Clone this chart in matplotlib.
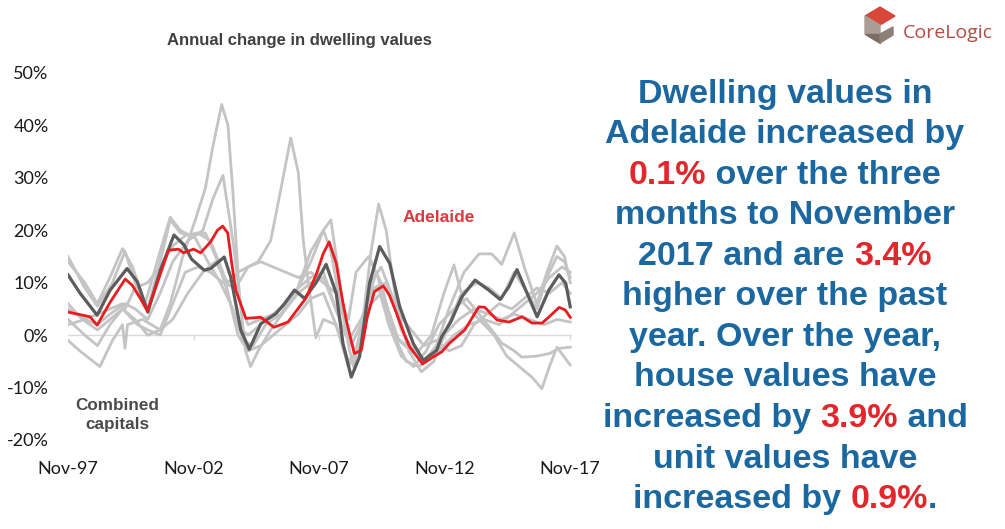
import matplotlib
matplotlib.use("Agg")
import matplotlib.pyplot as plt
from matplotlib.patches import Polygon

# ---- data: annual change in dwelling values (%), dates as decimal years ----
ADL_YEARS = [1997.83, 1998.71, 1998.99, 1999.51, 2000.11, 2000.39, 2000.71, 2000.99,
             2001.39, 2001.83, 2002.23, 2002.43, 2002.83, 2003.11, 2003.51, 2003.78,
             2003.99, 2004.19, 2004.35, 2004.51, 2004.91, 2005.51, 2006.03, 2006.59,
             2007.31, 2007.71, 2007.99, 2008.23, 2008.51, 2008.71, 2008.91, 2009.23,
             2009.51, 2009.75, 2010.03, 2010.39, 2010.63, 2010.91, 2011.2, 2011.43,
             2011.95, 2012.39, 2012.71, 2013.03, 2013.63, 2014.19, 2014.43, 2014.91,
             2015.39, 2015.91, 2016.31, 2016.71, 2016.99, 2017.39, 2017.63, 2017.83]
ADL_VALUES = [4.4, 3.5, 1.9, 6.3, 10.7, 9.5, 7.0, 4.6,
              10.0, 16.2, 16.4, 15.7, 16.4, 15.7, 17.8, 20.0,
              20.8, 19.5, 13.7, 8.6, 3.2, 3.4, 1.5, 2.5,
              7.1, 11.5, 15.5, 17.8, 13.7, 8.0, 2.9, -3.5,
              -2.9, 3.5, 8.3, 9.4, 7.6, 4.2, 0.4, -2.2,
              -5.5, -4.1, -3.2, -1.5, 1.0, 5.4, 5.3, 2.9,
              2.5, 3.5, 2.3, 2.3, 3.5, 5.3, 4.8, 3.4]

CAP_YEARS = [1997.83, 1998.31, 1998.99, 1999.51, 2000.18, 2000.59, 2001.01, 2001.51,
             2002.05, 2002.45, 2002.75, 2003.25, 2003.51, 2004.05, 2004.31, 2004.71,
             2005.05, 2005.51, 2006.11, 2006.45, 2006.85, 2007.25, 2007.71, 2008.11,
             2008.51, 2008.78, 2009.11, 2009.44, 2009.84, 2010.24, 2010.64, 2011.04,
             2011.58, 2011.98, 2012.51, 2012.71, 2013.07, 2013.51, 2014.04, 2014.58,
             2015.04, 2015.38, 2015.71, 2016.11, 2016.51, 2016.98, 2017.38, 2017.65,
             2017.83]
CAP_VALUES = [11.5, 8.0, 3.8, 8.6, 12.7, 10.2, 4.4, 12.4,
              19.1, 17.2, 14.5, 12.4, 12.7, 14.9, 11.1, 1.0,
              -2.7, 2.2, 4.1, 6.0, 8.6, 7.0, 10.0, 13.5,
              8.0, -1.6, -8.0, -4.1, 9.9, 16.9, 13.7, 5.4,
              -1.6, -4.8, -2.9, -0.3, 2.5, 7.3, 10.5, 8.6,
              6.8, 9.2, 12.5, 8.0, 3.5, 8.6, 11.5, 9.9,
              5.4]

SYD_YEARS = [1997.83, 1998.5, 1999.0, 1999.6, 2000.1, 2000.5, 2001.0, 2001.5, 2001.9,
             2002.3, 2002.8, 2003.3, 2003.8, 2004.2, 2004.6, 2005.0, 2005.5, 2006.0,
             2006.5, 2007.0, 2007.5, 2008.0, 2008.5, 2009.0, 2009.4, 2009.9, 2010.3,
             2010.7, 2011.1, 2011.6, 2012.0, 2012.5, 2013.0, 2013.6, 2014.2, 2014.7,
             2015.1, 2015.6, 2016.0, 2016.5, 2016.9, 2017.3, 2017.6, 2017.83]
SYD_VALUES = [15, 9, 5.5, 10, 16, 10, 5, 14, 22,
              19.5, 19, 19.5, 14, 8, 0, -3, -2, 0,
              2, 4, 7, 8, 2, -5, -3, 10, 13,
              8, 1, -3, -5, -2, 5, 12, 15.5, 15.5,
              13.5, 19.5, 13, 6, 12, 17, 15, 10]

MEL_YEARS = [1997.83, 1998.5, 1999.0, 1999.5, 2000.0, 2000.4, 2000.9, 2001.5, 2001.9,
             2002.3, 2002.9, 2003.4, 2003.9, 2004.4, 2004.8, 2005.2, 2005.7, 2006.3,
             2006.9, 2007.5, 2008.0, 2008.3, 2008.6, 2009.0, 2009.2, 2009.5, 2009.9,
             2010.2, 2010.5, 2010.9, 2011.4, 2011.9, 2012.4, 2012.9, 2013.5, 2014.1,
             2014.6, 2015.1, 2015.6, 2016.0, 2016.5, 2016.9, 2017.3, 2017.6, 2017.83]
MEL_VALUES = [14, 10, 6, 11, 16.5, 13, 6, 16, 22.5,
              20, 18.5, 14, 10, 5, -1, -2, 2, 4,
              8, 16, 20, 22, 12, -2, -6, 0, 16,
              25, 20, 6, -3, -7, -5, 1, 8, 10,
              9, 7, 12, 9, 5, 11, 15, 14, 11]

BRI_YEARS = [1997.83, 1998.5, 1999.0, 1999.5, 2000.1, 2000.5, 2001.0, 2001.5, 2002.0,
             2002.6, 2003.2, 2003.6, 2004.0, 2004.4, 2004.7, 2005.0, 2005.5, 2006.0,
             2006.5, 2007.0, 2007.5, 2008.0, 2008.3, 2008.7, 2009.1, 2009.5, 2009.9,
             2010.3, 2010.8, 2011.3, 2011.8, 2012.3, 2012.8, 2013.4, 2014.0, 2014.6,
             2015.1, 2015.6, 2016.2, 2016.8, 2017.3, 2017.83]
BRI_VALUES = [5, 3, 2, 4, 6, 5, 3, 8, 14,
              18, 20, 26, 30.5, 18, 6, 2, 3, 4,
              6, 9, 14, 20, 16, 5, -2, 2, 6,
              8, 0, -5, -6, -4, 0, 3, 5, 4,
              3, 4, 3, 2, 3, 2.5]

HOB_YEARS = [1997.83, 1998.3, 1999.1, 1999.6, 2000.0, 2000.1, 2000.2, 2000.8, 2001.5,
             2001.9, 2002.4, 2002.9, 2003.3, 2003.6, 2003.95, 2004.2, 2004.4, 2004.65,
             2004.9, 2005.1, 2005.4, 2005.9, 2006.5, 2007.0, 2007.5, 2008.0, 2008.4,
             2008.9, 2009.3, 2009.7, 2010.1, 2010.5, 2011.0, 2011.5, 2012.0, 2012.6,
             2013.2, 2013.8, 2014.4, 2015.0, 2015.5, 2016.0, 2016.5, 2017.0, 2017.5,
             2017.83]
HOB_VALUES = [-1, -3, -6, -1, 2, -2.5, 2, 3, 1,
              6, 15, 22, 28, 36, 44, 40, 27, 8,
              -3, -6, -3, 1, 5, 8, 10, 11, 6,
              0, -3, 5, 12, 6, -1, -3, -5, -3,
              0, 2, 3, 2, 4, 6, 8, 11, 13,
              12]

PER_YEARS = [1997.83, 1998.4, 1999.0, 1999.5, 2000.0, 2000.6, 2001.0, 2001.5, 2002.0,
             2002.5, 2003.0, 2003.5, 2004.0, 2004.5, 2005.0, 2005.4, 2005.9, 2006.3,
             2006.7, 2007.0, 2007.2, 2007.4, 2007.7, 2008.0, 2008.5, 2009.0, 2009.3,
             2009.8, 2010.2, 2010.6, 2011.1, 2011.6, 2012.1, 2012.6, 2013.2, 2013.7,
             2014.2, 2014.7, 2015.1, 2015.6, 2015.9, 2016.5, 2017.0, 2017.4, 2017.83]
PER_VALUES = [6, 3, 1, 3, 5, 2, 1, 0, 6,
              12, 13, 12, 10, 9, 13, 14, 18, 27.7,
              37.6, 31, 18, 10, -0.5, 3, 2, -6, -3,
              8, 9, 2, -4, -6, -3, 2, 5, 7,
              4, 1, -1.5, -3, -4.2, -4, -3.5, -2.5, -2.3]

DAR_YEARS = [1997.83, 1998.5, 1999.0, 1999.5, 2000.0, 2000.5, 2001.0, 2001.5, 2002.0,
             2002.6, 2003.2, 2003.7, 2004.2, 2004.6, 2005.0, 2005.5, 2006.0, 2006.5,
             2007.0, 2007.5, 2008.0, 2008.5, 2009.0, 2009.3, 2009.8, 2010.3, 2010.8,
             2011.3, 2011.8, 2012.3, 2012.8, 2013.2, 2013.6, 2014.2, 2014.8, 2015.3,
             2015.8, 2016.3, 2016.7, 2017.0, 2017.3, 2017.83]
DAR_VALUES = [3, 0, -2, 2, 5, 3, 0, 1, 3,
              8, 12, 14, 10, 12, 13, 14, 13, 12,
              11, 12, 10, 8, 3, 12, 15, 10, 0,
              -2, -3, 0, 8, 13.4, 6, 3, 0, -4,
              -6, -8, -10.2, -6, -2.3, -5.7]

CAN_YEARS = [1997.83, 1998.5, 1999.0, 1999.5, 2000.0, 2000.1, 2000.5, 2001.0, 2001.5,
             2002.0, 2002.5, 2003.0, 2003.5, 2004.0, 2004.5, 2005.0, 2005.5, 2006.0,
             2006.5, 2007.0, 2007.5, 2008.0, 2008.5, 2009.0, 2009.5, 2010.0, 2010.5,
             2011.0, 2011.5, 2012.0, 2012.5, 2013.0, 2013.5, 2014.0, 2014.5, 2015.0,
             2015.5, 2016.0, 2016.5, 2017.0, 2017.5, 2017.83]
CAN_VALUES = [2, 3, 4, 5, 6, 5, 9, 10, 13,
              17, 19, 19.5, 18, 12, 2, 0, 2, 4,
              6, 9, 11, 12, 5, -1, 3, 9, 10,
              4, 1, -2, -1, -3, -2, 2, 4, 6,
              5, 7, 9, 8, 10, 8]

OTHER_CAPITALS = [
    (SYD_YEARS, SYD_VALUES), (MEL_YEARS, MEL_VALUES), (BRI_YEARS, BRI_VALUES),
    (HOB_YEARS, HOB_VALUES), (PER_YEARS, PER_VALUES), (DAR_YEARS, DAR_VALUES),
    (CAN_YEARS, CAN_VALUES),
]

TICK_YEARS = [1997.83, 2002.83, 2007.83, 2012.83, 2017.83]
TICK_LABELS = ["Nov-97", "Nov-02", "Nov-07", "Nov-12", "Nov-17"]
Y_TICKS = [-20, -10, 0, 10, 20, 30, 40, 50]

BLUE = "#1b68a0"
RED = "#e3262b"
BLURB = [
    [("Dwelling values in", BLUE)],
    [("Adelaide increased by", BLUE)],
    [("0.1%", RED), (" over the three", BLUE)],
    [("months to November", BLUE)],
    [("2017 and are ", BLUE), ("3.4%", RED)],
    [("higher over the past", BLUE)],
    [("year. Over the year,", BLUE)],
    [("house values have", BLUE)],
    [("increased by ", BLUE), ("3.9%", RED), (" and", BLUE)],
    [("unit values have", BLUE)],
    [("increased by ", BLUE), ("0.9%", RED), (".", BLUE)],
]

W, H = 1005, 529


def main() -> None:
    fig = plt.figure(figsize=(W / 100, H / 100), dpi=100)
    ax = fig.add_axes([68 / W, 1 - 440 / H, (572 - 68) / W, (440 - 73) / H])

    for years, values in OTHER_CAPITALS:
        ax.plot(years, values, color="#c4c4c4", lw=2.0, solid_joinstyle="round", zorder=2)
    ax.plot(CAP_YEARS, CAP_VALUES, color="#5c5c5c", lw=2.3, solid_joinstyle="round", zorder=3)
    ax.plot(ADL_YEARS, ADL_VALUES, color="#ea1c20", lw=2.0, solid_joinstyle="round", zorder=4)

    ax.axhline(0, color="#d9d9d9", lw=1, zorder=1)
    ax.vlines(TICK_YEARS[1:], -0.9, 0, color="#d9d9d9", lw=1, zorder=1)

    ax.set_xlim(1997.83, 2017.9)
    ax.set_ylim(-20, 50)
    for spine in ax.spines.values():
        spine.set_visible(False)
    ax.set_xticks(TICK_YEARS, TICK_LABELS)
    ax.set_yticks(Y_TICKS, [f"{v}%" for v in Y_TICKS])
    ax.tick_params(axis="both", length=0, labelsize=13, labelcolor="#1a1a1a")
    ax.tick_params(axis="y", pad=14)
    ax.tick_params(axis="x", pad=15)
    for lab in ax.get_xticklabels() + ax.get_yticklabels():
        lab.set_family("Lato")

    bold = dict(family="Liberation Sans", fontweight="bold")
    fig.text(299 / W, 1 - 41 / H, "Annual change in dwelling values", ha="center", va="center",
             color="#404040", fontsize=12, **bold)
    ax.text(2012.6, 22.5, "Adelaide", ha="center", va="center", color="#dc3a3f", fontsize=12.5, **bold)
    ax.text(1999.78, -15.2, "Combined\ncapitals", ha="center", va="center", color="#4a4a4a",
            fontsize=12.3, linespacing=1.35, **bold)

    # right-hand commentary, centred line by line with red figures
    renderer = fig.canvas.get_renderer()
    for i, segments in enumerate(BLURB):
        y = 1 - (103 + 40.5 * i) / H
        pieces = [fig.text(0, y, s, color=c, fontsize=24.5, va="baseline", **bold) for s, c in segments]
        widths = [p.get_window_extent(renderer).width for p in pieces]
        x = 785 - sum(widths) / 2
        for p, w in zip(pieces, widths):
            p.set_x(x / W)
            x += w

    # CoreLogic logo
    lax = fig.add_axes([862 / W, 1 - 46 / H, 36 / W, 41 / H])
    lax.set_xlim(862, 898)
    lax.set_ylim(46, 5)
    lax.axis("off")
    lax.add_patch(Polygon([(865, 16), (880, 7), (895, 16), (880, 25)], color="#d9473b"))
    lax.add_patch(Polygon([(865, 16), (880, 25), (880, 43), (865, 34)], color="#a99d96"))
    lax.add_patch(Polygon([(865, 34), (880, 34), (880, 43)], color="#7b6d66"))
    lax.add_patch(Polygon([(880, 34), (893, 27), (893, 35), (880, 43)], color="#8c7f78"))
    fig.text(903 / W, 1 - 33 / H, "CoreLogic", ha="left", va="center", color="#b54a43",
             fontsize=14, family="Open Sans")

    fig.savefig("out.png", dpi=100)
    plt.close(fig)


if __name__ == "__main__":
    main()
